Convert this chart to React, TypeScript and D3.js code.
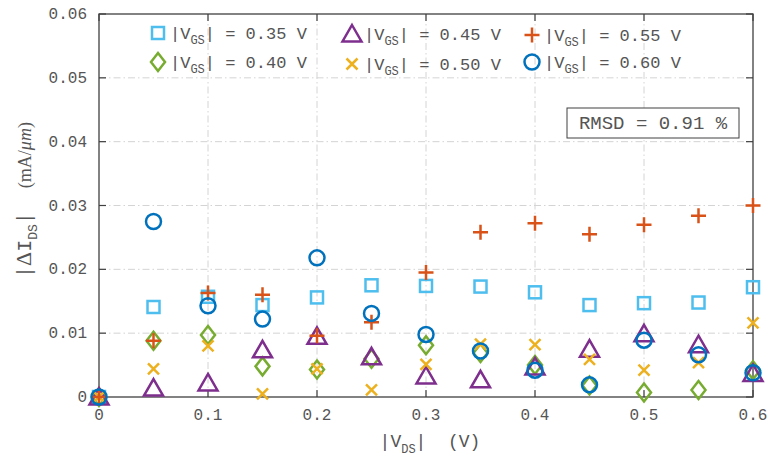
import React from 'react';
import * as d3 from 'd3';

const vds = [0, 0.05, 0.1, 0.15, 0.2, 0.25, 0.3, 0.35, 0.4, 0.45, 0.5, 0.55, 0.6];
const vgs035 = [0, 0.0141, 0.0157, 0.0144, 0.0156, 0.0175, 0.0174, 0.0173, 0.0164, 0.0144, 0.0147, 0.0148, 0.0172];
const vgs040 = [0, 0.0088, 0.0097, 0.0048, 0.0043, 0.0060, 0.0081, 0.0069, 0.0050, 0.0018, 0.0007, 0.0011, 0.0042];
const vgs045 = [0, 0.0014, 0.0022, 0.0074, 0.0095, 0.0063, 0.0033, 0.0027, 0.0047, 0.0075, 0.0099, 0.0082, 0.0037];
const vgs050 = [0, 0.0044, 0.0080, 0.0005, 0.0044, 0.0011, 0.0051, 0.0083, 0.0082, 0.0059, 0.0042, 0.0054, 0.0116];
const vgs055 = [0, 0.0088, 0.0163, 0.0160, 0.0096, 0.0117, 0.0195, 0.0258, 0.0272, 0.0255, 0.0270, 0.0284, 0.0300];
const vgs060 = [0, 0.0275, 0.0143, 0.0122, 0.0218, 0.0131, 0.0098, 0.0072, 0.0042, 0.0019, 0.0089, 0.0066, 0.0038];

const seriesLabels = ['0.35', '0.40', '0.45', '0.50', '0.55', '0.60'];
const xTicks = [0, 0.1, 0.2, 0.3, 0.4, 0.5, 0.6];
const xTickLabels = ['0', '0.1', '0.2', '0.3', '0.4', '0.5', '0.6'];
const yTicks = [0, 0.01, 0.02, 0.03, 0.04, 0.05, 0.06];
const yTickLabels = ['0', '0.01', '0.02', '0.03', '0.04', '0.05', '0.06'];
const rmsdText = 'RMSD = 0.91 %';

const W = 771, H = 458;
const X0 = 99, X1 = 753, Y0 = 397, Y1 = 14;
const AX = '#404040';
const TXT = '#555555';
const MONO = '"Liberation Mono", "Courier New", monospace';
const SERIF = '"Liberation Serif", "Times New Roman", serif';

type MType = 'square' | 'diamond' | 'triangle' | 'x' | 'plus' | 'circle';

const series: { values: number[]; type: MType; color: string; label: string }[] = [
  { values: vgs035, type: 'square', color: '#4DBEEE', label: seriesLabels[0] },
  { values: vgs040, type: 'diamond', color: '#77AC30', label: seriesLabels[1] },
  { values: vgs045, type: 'triangle', color: '#7E2F8E', label: seriesLabels[2] },
  { values: vgs050, type: 'x', color: '#EDB120', label: seriesLabels[3] },
  { values: vgs055, type: 'plus', color: '#D95319', label: seriesLabels[4] },
  { values: vgs060, type: 'circle', color: '#0072BD', label: seriesLabels[5] },
];

function Marker({ type, cx, cy, color }: { type: MType; cx: number; cy: number; color: string }) {
  const sw = 2.5;
  const common = { fill: 'none', stroke: color, strokeWidth: sw };
  switch (type) {
    case 'square':
      return <rect x={cx - 6} y={cy - 6} width={12} height={12} {...common} />;
    case 'diamond':
      return <path d={`M${cx},${cy - 9}L${cx + 7},${cy}L${cx},${cy + 9}L${cx - 7},${cy}Z`} {...common} />;
    case 'triangle':
      return <path d={`M${cx},${cy - 9}L${cx + 9.5},${cy + 7.5}L${cx - 9.5},${cy + 7.5}Z`} {...common} />;
    case 'x':
      return <path d={`M${cx - 5.5},${cy - 5.5}L${cx + 5.5},${cy + 5.5}M${cx - 5.5},${cy + 5.5}L${cx + 5.5},${cy - 5.5}`} {...common} />;
    case 'plus':
      return <path d={`M${cx - 7.5},${cy}L${cx + 7.5},${cy}M${cx},${cy - 7.5}L${cx},${cy + 7.5}`} {...common} />;
    case 'circle':
      return <circle cx={cx} cy={cy} r={7.5} {...common} />;
  }
}

export default function App() {
  const x = d3.scaleLinear().domain([0, 0.6]).range([X0, X1]);
  const y = d3.scaleLinear().domain([0, 0.06]).range([Y0, Y1]);
  const tl = 7;

  const legendPos = [
    { mx: 158, my: 33 },
    { mx: 158, my: 62 },
    { mx: 352, my: 34 },
    { mx: 352, my: 64 },
    { mx: 532, my: 35 },
    { mx: 532, my: 62 },
  ];

  return (
    <svg width={W} height={H} style={{ position: 'absolute', left: 0, top: 0, background: '#fff' }}>
      <rect x={0} y={0} width={W} height={H} fill="#fff" />
      {xTicks.slice(1, -1).map((t, i) => (
        <line key={'gx' + i} x1={x(t)} x2={x(t)} y1={Y1} y2={Y0} stroke="#d4d4d4" strokeWidth={1} strokeDasharray="7,3,1.5,3" />
      ))}
      {yTicks.slice(1, -1).map((t, i) => (
        <line key={'gy' + i} x1={X0} x2={X1} y1={y(t)} y2={y(t)} stroke="#d4d4d4" strokeWidth={1} strokeDasharray="7,3,1.5,3" />
      ))}
      {xTicks.map((t, i) => (
        <g key={'tx' + i}>
          <line x1={x(t)} x2={x(t)} y1={Y0} y2={Y0 - tl} stroke={AX} strokeWidth={1.2} />
          <line x1={x(t)} x2={x(t)} y1={Y1} y2={Y1 + tl} stroke={AX} strokeWidth={1.2} />
          <text x={x(t)} y={420} textAnchor="middle" fontFamily={MONO} fontSize={16} fill={TXT}>{xTickLabels[i]}</text>
        </g>
      ))}
      {yTicks.map((t, i) => (
        <g key={'ty' + i}>
          <line x1={X0} x2={X0 + tl} y1={y(t)} y2={y(t)} stroke={AX} strokeWidth={1.2} />
          <line x1={X1} x2={X1 - tl} y1={y(t)} y2={y(t)} stroke={AX} strokeWidth={1.2} />
          <text x={87} y={y(t) + 5} textAnchor="end" fontFamily={MONO} fontSize={16} fill={TXT}>{yTickLabels[i]}</text>
        </g>
      ))}
      <rect x={X0} y={Y1} width={X1 - X0} height={Y0 - Y1} fill="none" stroke={AX} strokeWidth={1.3} />
      {series.map((s, si) => (
        <g key={'s' + si}>
          {s.values.map((v, i) => (
            <Marker key={i} type={s.type} cx={x(vds[i])} cy={y(v)} color={s.color} />
          ))}
        </g>
      ))}
      {series.map((s, si) => {
        const p = legendPos[si];
        return (
          <g key={'l' + si}>
            <Marker type={s.type} cx={p.mx} cy={p.my} color={s.color} />
            <text x={p.mx + 12} y={p.my + 6} fontFamily={MONO} fontSize={17} fill={TXT} style={{ whiteSpace: 'pre' }}>
              <tspan>|V</tspan>
              <tspan fontSize={12} dy={5}>GS</tspan>
              <tspan dy={-5}>{`| = ${s.label} V`}</tspan>
            </text>
          </g>
        );
      })}
      <rect x={567} y={108} width={172} height={30} fill="#fff" stroke={AX} strokeWidth={1} />
      <text x={653} y={129} textAnchor="middle" fontFamily={MONO} fontSize={19} fill={TXT} style={{ whiteSpace: 'pre' }}>{rmsdText}</text>
      <text x={430} y={447} textAnchor="middle" fontFamily={MONO} fontSize={18} fill={TXT} style={{ whiteSpace: 'pre' }}>
        <tspan>|V</tspan>
        <tspan fontSize={12} dy={6}>DS</tspan>
        <tspan dy={-6}>{'|  (V)'}</tspan>
      </text>
      <g transform="translate(31,200) rotate(-90)">
        <text x={0} y={0} textAnchor="middle" fill={TXT} style={{ whiteSpace: 'pre' }}>
          <tspan fontFamily={MONO} fontSize={20}>|</tspan>
          <tspan fontFamily={SERIF} fontSize={22}>Δ</tspan>
          <tspan fontFamily={MONO} fontSize={20}>I</tspan>
          <tspan fontFamily={MONO} fontSize={13} dy={6}>DS</tspan>
          <tspan fontFamily={MONO} fontSize={20} dy={-6}>{'|  '}</tspan>
          <tspan fontFamily={SERIF} fontSize={18}>(mA/</tspan>
          <tspan fontFamily={SERIF} fontSize={18} fontStyle="italic">μm</tspan>
          <tspan fontFamily={SERIF} fontSize={18}>)</tspan>
        </text>
      </g>
    </svg>
  );
}
